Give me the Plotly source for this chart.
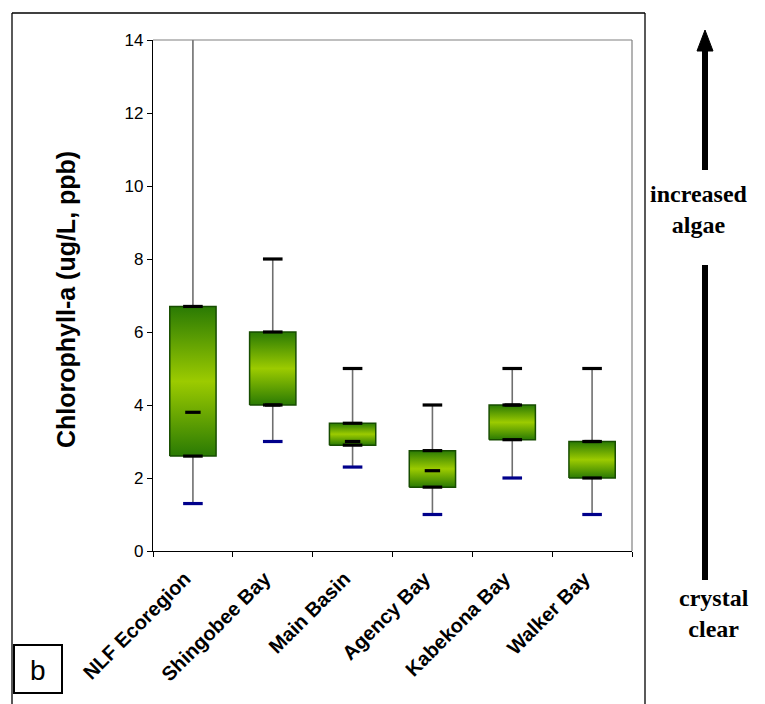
import plotly.graph_objects as go

categories = ["NLF Ecoregion", "Shingobee Bay", "Main Basin", "Agency Bay", "Kabekona Bay", "Walker Bay"]
mins = [1.3, 3.0, 2.3, 1.0, 2.0, 1.0]
q1 = [2.6, 4.0, 2.9, 1.75, 3.05, 2.0]
medians = [3.8, 4.0, 3.0, 2.2, 4.0, 3.0]
q3 = [6.7, 6.0, 3.5, 2.75, 4.0, 3.0]
maxs = [16.0, 8.0, 5.0, 4.0, 5.0, 5.0]
y_ticks = [0, 2, 4, 6, 8, 10, 12, 14]

W, H = 765, 704
L, R, T, B = 153, 632, 40, 551

def px(x):
    return (x - L) / (R - L)

def py(y):
    return (B - y) / (B - T)

fig = go.Figure()
hw = 0.29
idx = list(range(len(categories)))

# whiskers
for i in idx:
    fig.add_trace(go.Scatter(x=[i, i], y=[mins[i], maxs[i]], mode="lines",
                             line=dict(color="#6f6f6f", width=1.6), showlegend=False,
                             hoverinfo="skip", cliponaxis=True))
# boxes
for i in idx:
    fig.add_trace(go.Scatter(
        x=[i - hw, i + hw, i + hw, i - hw, i - hw],
        y=[q1[i], q1[i], q3[i], q3[i], q1[i]],
        mode="lines", fill="toself",
        fillgradient=dict(type="vertical",
                          colorscale=[[0, "#2a7a04"], [0.5, "#9ccb00"], [1, "#2a7a04"]]),
        line=dict(color="#174d00", width=1.5), showlegend=False, hoverinfo="skip"))

# cap markers
cap = dict(symbol="line-ew", size=14, line=dict(width=3.2, color="black"))
fig.add_trace(go.Scatter(x=idx, y=q1, mode="markers", marker=cap, showlegend=False))
fig.add_trace(go.Scatter(x=idx, y=q3, mode="markers", marker=cap, showlegend=False))
fig.add_trace(go.Scatter(x=idx, y=medians, mode="markers",
                         marker=dict(symbol="line-ew", size=11, line=dict(width=3.2, color="black")),
                         showlegend=False))
fig.add_trace(go.Scatter(x=[i for i in idx if maxs[i] <= 14], y=[m for m in maxs if m <= 14],
                         mode="markers", marker=cap, showlegend=False))
fig.add_trace(go.Scatter(x=idx, y=mins, mode="markers",
                         marker=dict(symbol="line-ew", size=14, line=dict(width=3.2, color="#00008b")),
                         showlegend=False))

shapes = []
# plot area top and right (gray)
shapes.append(dict(type="line", xref="paper", yref="paper", x0=0, x1=1, y0=1, y1=1,
                   line=dict(color="#808080", width=1.2)))
shapes.append(dict(type="line", xref="paper", yref="paper", x0=1, x1=1, y0=0, y1=1,
                   line=dict(color="#808080", width=1.2)))
# outer frame
fr = dict(color="black", width=1.3)
shapes.append(dict(type="line", xref="paper", yref="paper", x0=px(12), x1=px(645), y0=py(13), y1=py(13), line=fr))
shapes.append(dict(type="line", xref="paper", yref="paper", x0=px(12), x1=px(12), y0=py(13), y1=py(704), line=fr))
shapes.append(dict(type="line", xref="paper", yref="paper", x0=px(645), x1=px(645), y0=py(13), y1=py(704), line=fr))
# b box
shapes.append(dict(type="rect", xref="paper", yref="paper", x0=px(14), x1=px(62), y0=py(693), y1=py(645),
                   line=dict(color="black", width=2)))
# arrows on right
ax = 705
shapes.append(dict(type="line", xref="paper", yref="paper", x0=px(ax), x1=px(ax), y0=py(170), y1=py(50),
                   line=dict(color="black", width=6)))
shapes.append(dict(type="path", xref="paper", yref="paper",
                   path=f"M {px(ax-8)} {py(51)} L {px(ax+8)} {py(51)} L {px(ax)} {py(30)} Z",
                   fillcolor="black", line=dict(color="black", width=1)))
shapes.append(dict(type="line", xref="paper", yref="paper", x0=px(ax), x1=px(ax), y0=py(265), y1=py(580),
                   line=dict(color="black", width=6)))

annotations = [
    dict(text="Chlorophyll-a (ug/L, ppb)", xref="paper", yref="paper", x=px(66), y=py(300),
         textangle=-90, showarrow=False, xanchor="center", yanchor="middle",
         font=dict(family="Liberation Sans, Arial", size=25, color="black", weight="bold")),
    dict(text="b", xref="paper", yref="paper", x=px(38), y=py(670), showarrow=False,
         xanchor="center", yanchor="middle", font=dict(family="Liberation Sans, Arial", size=28, color="black")),
    dict(text="<b>increased<br>algae</b>", xref="paper", yref="paper", x=px(699), y=py(209),
         showarrow=False, xanchor="center", yanchor="middle",
         font=dict(family="Liberation Serif, Times New Roman", size=24, color="black")),
    dict(text="<b>crystal<br>clear</b>", xref="paper", yref="paper", x=px(714), y=py(613),
         showarrow=False, xanchor="center", yanchor="middle",
         font=dict(family="Liberation Serif, Times New Roman", size=24, color="black")),
]

fig.update_layout(
    width=W, height=H,
    margin=dict(l=L, r=W - R, t=T, b=H - B, pad=0),
    paper_bgcolor="white", plot_bgcolor="white",
    shapes=shapes, annotations=annotations, showlegend=False,
    xaxis=dict(range=[-0.5, 5.5], tickmode="array", tickvals=idx, ticktext=categories,
               tickangle=-45, ticks="", showgrid=False, zeroline=False,
               showline=True, linecolor="black", linewidth=1.3,
               ticklabelstandoff=7, ticklabelshift=-8,
               tickfont=dict(family="Liberation Sans, Arial", size=20, color="black", weight="bold"),
               minor=dict(tickmode="array", tickvals=[-0.5, 0.5, 1.5, 2.5, 3.5, 4.5, 5.5],
                          ticks="outside", ticklen=5, tickcolor="black", tickwidth=1.3, showgrid=False),
               fixedrange=True),
    yaxis=dict(range=[0, 14], tickmode="array", tickvals=y_ticks, ticks="outside", ticklen=5,
               tickcolor="black", tickwidth=1.3, showgrid=False, zeroline=False,
               showline=True, linecolor="black", linewidth=1.3,
               tickfont=dict(family="Liberation Sans, Arial", size=17, color="black"),
               fixedrange=True),
)

fig.write_html("out.html")
